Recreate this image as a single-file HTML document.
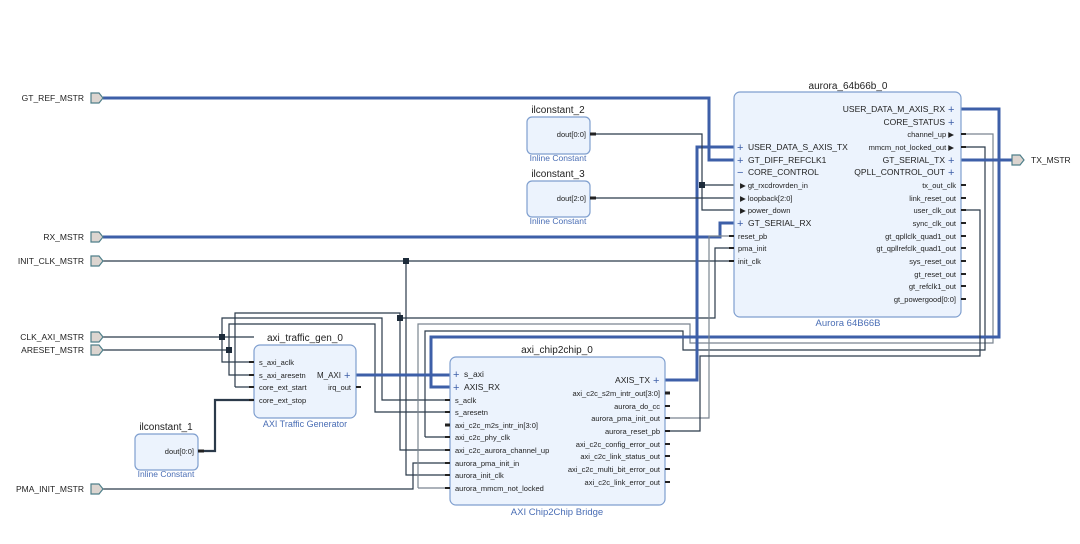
<!DOCTYPE html>
<html><head><meta charset="utf-8"><style>
html,body{margin:0;padding:0;background:#fff;}
svg{display:block;font-family:"Liberation Sans",sans-serif;}
.t{font-size:11px;fill:#222;}
.p{font-size:7.5px;fill:#222;}
.P{font-size:8.5px;fill:#222;}
.l{font-size:9.5px;fill:#4a6eb5;}
.w{stroke:#2b3a4a;stroke-width:1.2;fill:none;}
.g{stroke:#7a8590;stroke-width:1.2;fill:none;}
.b{stroke:#3d5fa8;stroke-width:3;fill:none;}
.box{fill:#ecf3fd;stroke:#7f9fcf;stroke-width:1.2;}
.port{fill:#dcd5d0;stroke:#4f7f8a;stroke-width:1.2;}
.pin{stroke:#222;stroke-width:2;}
.j{fill:#1d2b3a;}
</style></head><body>
<svg width="1080" height="544" viewBox="0 0 1080 544">
<!-- wires -->
<g>
<path class="b" d="M103 98H709V160H734"/>
<path class="b" d="M103 237H720V223H734"/>
<path class="w" d="M103 261H734"/>
<path class="w" d="M406 261V475H450"/>
<path class="w" d="M103 337H254"/>
<path class="w" d="M103 350H229"/>
<path class="w" d="M103 489H413V463H450"/>
<path class="w" d="M222 337V318H382V400H450"/>
<path class="w" d="M222 337V362H254"/>
<path class="w" d="M229 350V375H254"/>
<path class="w" d="M229 350V324H375V412H450"/>
<path class="w" d="M235 387H254M235 387V313H400V450H450"/>
<path class="w" d="M400 318H715V248H734"/>
<path class="g" d="M418 488H450M418 488V324H690V343H993V134H961"/>
<path class="w" d="M425 437H450M425 437V331H683V350H985V147H961"/>
<path class="b" d="M961 109H999V337H431V387H450"/>
<path class="b" d="M356 375H450"/>
<path class="b" d="M665 380H697V147H734"/>
<path class="b" d="M961 160H1012"/>
<path class="w" d="M590 134H702V210H734"/>
<path class="w" d="M702 185H734"/>
<path class="w" d="M590 198H734"/>
<path class="w" style="stroke-width:2.2" d="M198 451H215V400H254"/>
<path class="g" d="M665 418H709V236H734"/>
<path class="w" d="M665 431H700V356H980V210H961"/>
<rect class="j" x="219" y="334" width="6" height="6"/>
<rect class="j" x="226" y="347" width="6" height="6"/>
<rect class="j" x="403" y="258" width="6" height="6"/>
<rect class="j" x="397" y="315" width="6" height="6"/>
<rect class="j" x="699" y="182" width="6" height="6"/>
</g>
<!-- ports -->
<g>
<path class="port" d="M91 93H99L103 98L99 103H91Z"/><text class="P" x="84" y="101" text-anchor="end">GT_REF_MSTR</text>
<path class="port" d="M91 232H99L103 237L99 242H91Z"/><text class="P" x="84" y="240" text-anchor="end">RX_MSTR</text>
<path class="port" d="M91 256H99L103 261L99 266H91Z"/><text class="P" x="84" y="264" text-anchor="end">INIT_CLK_MSTR</text>
<path class="port" d="M91 332H99L103 337L99 342H91Z"/><text class="P" x="84" y="340" text-anchor="end">CLK_AXI_MSTR</text>
<path class="port" d="M91 345H99L103 350L99 355H91Z"/><text class="P" x="84" y="353" text-anchor="end">ARESET_MSTR</text>
<path class="port" d="M91 484H99L103 489L99 494H91Z"/><text class="P" x="84" y="492" text-anchor="end">PMA_INIT_MSTR</text>
<path class="port" d="M1012 155H1020L1024 160L1020 165H1012Z"/><text class="P" x="1031" y="163">TX_MSTR</text>
</g>
<!-- aurora -->
<g>
<text class="t" x="848" y="89" text-anchor="middle" style="font-size:10px">aurora_64b66b_0</text>
<rect class="box" x="734" y="92" width="227" height="225" rx="6"/>
<text class="l" x="848" y="326" text-anchor="middle">Aurora 64B66B</text>
<g class="P">
<text x="748" y="150">USER_DATA_S_AXIS_TX</text>
<text x="748" y="163">GT_DIFF_REFCLK1</text>
<text x="748" y="175">CORE_CONTROL</text>
<text x="748" y="226">GT_SERIAL_RX</text>
</g>
<g class="p">
<text x="740" y="188">▶ gt_rxcdrovrden_in</text>
<text x="740" y="201">▶ loopback[2:0]</text>
<text x="740" y="213">▶ power_down</text>
<text x="738" y="239">reset_pb</text>
<text x="738" y="251">pma_init</text>
<text x="738" y="264">init_clk</text>
</g>
<g class="P" text-anchor="end">
<text x="945" y="112">USER_DATA_M_AXIS_RX</text>
<text x="945" y="125">CORE_STATUS</text>
<text x="945" y="163">GT_SERIAL_TX</text>
<text x="945" y="175">QPLL_CONTROL_OUT</text>
</g>
<g class="p" text-anchor="end">
<text x="954" y="137">channel_up ▶</text>
<text x="954" y="150">mmcm_not_locked_out ▶</text>
<text x="956" y="188">tx_out_clk</text>
<text x="956" y="201">link_reset_out</text>
<text x="956" y="213">user_clk_out</text>
<text x="956" y="226">sync_clk_out</text>
<text x="956" y="239">gt_qpllclk_quad1_out</text>
<text x="956" y="251">gt_qpllrefclk_quad1_out</text>
<text x="956" y="264">sys_reset_out</text>
<text x="956" y="277">gt_reset_out</text>
<text x="956" y="289">gt_refclk1_out</text>
<text x="956" y="302">gt_powergood[0:0]</text>
</g>
<g style="fill:#3d5fa8;font-size:11px">
<text x="737" y="151">+</text><text x="737" y="164">+</text><text x="737" y="176">−</text><text x="737" y="227">+</text>
<text x="948" y="113">+</text><text x="948" y="126">+</text><text x="948" y="164">+</text><text x="948" y="176">+</text>
</g>
<g class="pin"><path d="M961 185h5M961 198h5M961 210h5M961 223h5M961 236h5M961 248h5M961 261h5M961 274h5M961 286h5M961 299h5M961 134h5M961 147h5M729 236h5M729 248h5M729 261h5"/></g>
</g>
<!-- constants -->
<g>
<text class="t" x="558" y="113" text-anchor="middle" style="font-size:10px">ilconstant_2</text>
<rect class="box" x="527" y="117" width="63" height="37" rx="5"/>
<text class="p" x="586" y="137" text-anchor="end">dout[0:0]</text>
<text class="l" x="558" y="161" text-anchor="middle" style="font-size:8.5px">Inline Constant</text>
<text class="t" x="558" y="177" text-anchor="middle" style="font-size:10px">ilconstant_3</text>
<rect class="box" x="527" y="181" width="63" height="36" rx="5"/>
<text class="p" x="586" y="201" text-anchor="end">dout[2:0]</text>
<text class="l" x="558" y="224" text-anchor="middle" style="font-size:8.5px">Inline Constant</text>
<text class="t" x="166" y="430" text-anchor="middle" style="font-size:10px">ilconstant_1</text>
<rect class="box" x="135" y="434" width="63" height="36" rx="5"/>
<text class="p" x="194" y="454" text-anchor="end">dout[0:0]</text>
<text class="l" x="166" y="477" text-anchor="middle" style="font-size:8.5px">Inline Constant</text>
<path class="pin" style="stroke-width:3" d="M590 134h6M590 198h6M198 451h6"/>
</g>
<!-- traffic gen -->
<g>
<text class="t" x="305" y="341" text-anchor="middle" style="font-size:10px">axi_traffic_gen_0</text>
<rect class="box" x="254" y="345" width="102" height="73" rx="6"/>
<text class="l" x="305" y="427" text-anchor="middle" style="font-size:9px">AXI Traffic Generator</text>
<g class="p"><text x="259" y="365">s_axi_aclk</text><text x="259" y="378">s_axi_aresetn</text><text x="259" y="390">core_ext_start</text><text x="259" y="403">core_ext_stop</text></g>
<g class="p" text-anchor="end"><text x="341" y="378" class="P" style="font-size:8px">M_AXI</text><text x="351" y="390">irq_out</text></g>
<text x="344" y="379" style="fill:#3d5fa8;font-size:11px">+</text>
<path class="pin" d="M249 362h5M249 375h5M249 387h5M249 400h5M356 387h5"/>
</g>
<!-- chip2chip -->
<g>
<text class="t" x="557" y="353" text-anchor="middle" style="font-size:10px">axi_chip2chip_0</text>
<rect class="box" x="450" y="357" width="215" height="148" rx="6"/>
<text class="l" x="557" y="515" text-anchor="middle">AXI Chip2Chip Bridge</text>
<g class="P"><text x="464" y="377">s_axi</text><text x="464" y="390">AXIS_RX</text></g>
<g class="p">
<text x="455" y="403">s_aclk</text><text x="455" y="415">s_aresetn</text><text x="455" y="428">axi_c2c_m2s_intr_in[3:0]</text>
<text x="455" y="440">axi_c2c_phy_clk</text><text x="455" y="453">axi_c2c_aurora_channel_up</text>
<text x="455" y="466">aurora_pma_init_in</text><text x="455" y="478">aurora_init_clk</text><text x="455" y="491">aurora_mmcm_not_locked</text>
</g>
<g class="P" text-anchor="end"><text x="650" y="383">AXIS_TX</text></g>
<g class="p" text-anchor="end">
<text x="660" y="396">axi_c2c_s2m_intr_out[3:0]</text><text x="660" y="409">aurora_do_cc</text>
<text x="660" y="421">aurora_pma_init_out</text><text x="660" y="434">aurora_reset_pb</text>
<text x="660" y="447">axi_c2c_config_error_out</text><text x="660" y="459">axi_c2c_link_status_out</text>
<text x="660" y="472">axi_c2c_multi_bit_error_out</text><text x="660" y="485">axi_c2c_link_error_out</text>
</g>
<g style="fill:#3d5fa8;font-size:11px"><text x="453" y="378">+</text><text x="453" y="391">+</text><text x="653" y="384">+</text></g>
<path class="pin" d="M445 400h5M445 412h5M445 437h5M445 450h5M445 463h5M445 475h5M445 488h5M665 406h5M665 418h5M665 431h5M665 444h5M665 456h5M665 469h5M665 482h5"/>
<path class="pin" style="stroke-width:3" d="M445 425h5M665 393h5"/>
</g>
</svg>
</body></html>
